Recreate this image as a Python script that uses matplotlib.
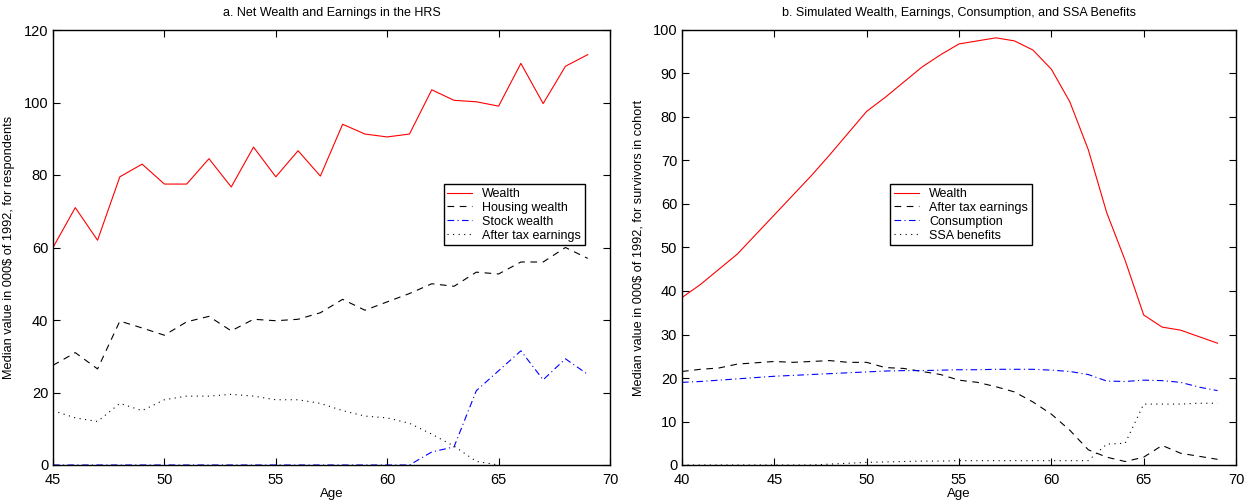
import matplotlib
matplotlib.use('Agg')
import matplotlib.pyplot as plt

plt.rcParams['font.family'] = ['Liberation Sans', 'DejaVu Sans']
plt.rcParams['font.size'] = 9

# panel a: HRS data
ages_a = list(range(45, 70))
wealth_a = [60, 71, 62, 79.5, 83, 77.5, 77.5, 84.5, 76.7, 87.7, 79.5, 86.7, 79.7,
            94, 91.3, 90.5, 91.3, 103.5, 100.6, 100.2, 99, 110.8, 99.7, 110, 113.2]
housing_a = [27.5, 31, 26.5, 39.7, 37.8, 35.8, 39.5, 41, 37, 40.2, 39.8, 40.2, 42,
             45.7, 42.7, 45, 47.3, 50, 49.3, 53.2, 52.7, 56, 56, 60, 57]
stock_a = [0, 0, 0, 0, 0, 0, 0, 0, 0, 0, 0, 0, 0, 0, 0, 0, 0,
           3.6, 5, 20.5, 26, 31.5, 23.5, 29.3, 25]
ages_earn_a = list(range(45, 66))
earnings_a = [15, 13, 12, 17, 15, 18, 19, 19, 19.5, 19, 18, 18, 17, 15, 13.5, 13,
              11.5, 8.5, 5.2, 1, 0]

# panel b: simulation
ages_b = list(range(40, 70))
wealth_b = [38.5, 41.5, 45, 48.5, 53, 57.5, 62, 66.5, 71.3, 76.3, 81.3, 84.5, 88,
            91.5, 94.3, 96.8, 97.5, 98.2, 97.5, 95.4, 91, 83.5, 72.5, 58, 47,
            34.5, 31.7, 31, 29.5, 28]
earnings_b = [21.5, 22, 22.3, 23.2, 23.5, 23.8, 23.6, 23.8, 24, 23.6, 23.6, 22.4,
              22.2, 21.5, 20.8, 19.5, 19, 18, 16.8, 14.5, 11.7, 8, 3.5, 1.8, 0.8,
              1.8, 4.5, 2.7, 2, 1.3]
consumption_b = [19, 19.2, 19.5, 19.8, 20.1, 20.4, 20.6, 20.8, 21, 21.2, 21.4, 21.6,
                 21.7, 21.7, 21.8, 21.9, 21.9, 22, 22, 22, 21.8, 21.5, 20.8, 19.3,
                 19.2, 19.5, 19.4, 19, 17.9, 17.1]
ssa_b = [0, 0, 0, 0, 0, 0, 0, 0, 0.2, 0.4, 0.6, 0.7, 0.8, 0.9, 0.9, 1, 1, 1, 1, 1,
         1, 1, 1, 4.8, 5, 14, 14, 14, 14.2, 14.2]

fig = plt.figure(figsize=(12.45, 5), dpi=100)
ax1 = fig.add_axes([53 / 1245, 35 / 500, 557 / 1245, 435 / 500])
ax2 = fig.add_axes([682 / 1245, 35 / 500, 554 / 1245, 435 / 500])

ax1.plot(ages_a, wealth_a, color='red', lw=0.8, label='Wealth')
ax1.plot(ages_a, housing_a, color='black', lw=0.8, linestyle=(0, (6, 5)), label='Housing wealth')
ax1.plot(ages_a, stock_a, color='blue', lw=0.8, linestyle=(0, (6, 3, 1, 3)), label='Stock wealth')
ax1.plot(ages_earn_a, earnings_a, color='black', lw=0.8, linestyle=(0, (1, 4)), label='After tax earnings')
ax1.set_xlim(45, 70)
ax1.set_ylim(0, 120)
ax1.set_yticks(range(0, 121, 20))
ax1.set_title('a. Net Wealth and Earnings in the HRS', fontsize=9, pad=10)
ax1.set_ylabel('Median value in 000$ of 1992, for respondents', fontsize=9.2, labelpad=6)
ax1.set_xlabel('Age', fontsize=9.5, labelpad=1)
ax1.legend(loc='upper left', bbox_to_anchor=(0.69, 0.66), fancybox=False,
           edgecolor='black', framealpha=1, handlelength=2.0, borderpad=0.3,
           labelspacing=0.15, fontsize=9)

ax2.plot(ages_b, wealth_b, color='red', lw=0.8, label='Wealth')
ax2.plot(ages_b, earnings_b, color='black', lw=0.8, linestyle=(0, (6, 5)), label='After tax earnings')
ax2.plot(ages_b, consumption_b, color='blue', lw=0.8, linestyle=(0, (6, 3, 1, 3)), label='Consumption')
ax2.plot(ages_b, ssa_b, color='black', lw=0.8, linestyle=(0, (1, 4)), label='SSA benefits')
ax2.set_xlim(40, 70)
ax2.set_ylim(0, 100)
ax2.set_yticks(range(0, 101, 10))
ax2.set_title('b. Simulated Wealth, Earnings, Consumption, and SSA Benefits', fontsize=9, pad=10)
ax2.set_ylabel('Median value in 000$ of 1992, for survivors in cohort', fontsize=9.2, labelpad=6)
ax2.set_xlabel('Age', fontsize=9.5, labelpad=1)
ax2.legend(loc='upper left', bbox_to_anchor=(0.365, 0.66), fancybox=False,
           edgecolor='black', framealpha=1, handlelength=2.0, borderpad=0.3,
           labelspacing=0.15, fontsize=9)

for ax in (ax1, ax2):
    ax.tick_params(direction='in', top=True, right=True, length=5, labelsize=10.5)
    ax.tick_params(axis='x', pad=5.5)
    for s in ax.spines.values():
        s.set_linewidth(1.0)

fig.savefig('out.png', dpi=100)
